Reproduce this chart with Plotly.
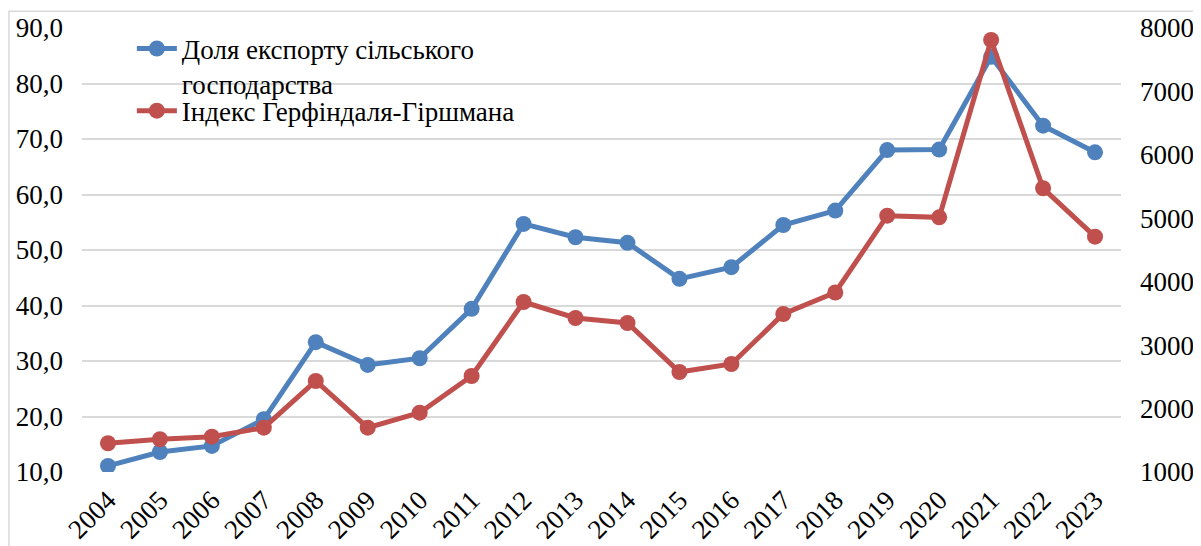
import plotly.graph_objects as go

years = [str(y) for y in range(2004, 2024)]
export_share = [11.1, 13.6, 14.7, 19.5, 33.4, 29.3, 30.5, 39.4, 54.7, 52.3,
                51.3, 44.8, 46.9, 54.5, 57.1, 68.0, 68.1, 84.8, 72.4, 67.6]
hhi_index = [1453, 1516, 1557, 1699, 2435, 1699, 1935, 2514, 3680, 3428,
             3349, 2577, 2703, 3491, 3830, 5041, 5015, 7811, 5473, 4710]

name_export = "Доля експорту сільського<br>господарства"
name_hhi = "Індекс Герфіндаля-Гіршмана"

BLUE = "#4F81BD"
RED = "#C0504D"
FONT = "Liberation Serif"
FS = 27

fig = go.Figure()
fig.add_trace(go.Scatter(
    x=years, y=export_share, name=name_export, mode="lines+markers",
    line=dict(color=BLUE, width=5), marker=dict(color=BLUE, size=16),
    yaxis="y", legend="legend"))
fig.add_trace(go.Scatter(
    x=years, y=hhi_index, name=name_hhi, mode="lines+markers",
    line=dict(color=RED, width=5), marker=dict(color=RED, size=16),
    yaxis="y2", legend="legend2"))

legend_common = dict(xanchor="left", yanchor="top", bgcolor="rgba(0,0,0,0)",
                     font=dict(family=FONT, size=FS), valign="top",
                     itemwidth=40)

fig.update_layout(
    width=1193, height=538,
    margin=dict(l=74, r=80, t=20, b=74),
    paper_bgcolor="white", plot_bgcolor="white",
    separators=", ",
    font=dict(family=FONT, size=FS, color="black"),
    showlegend=True,
    legend=dict(x=0.048, y=1.008, **legend_common),
    legend2=dict(x=0.048, y=0.868, **legend_common),
    xaxis=dict(type="category", range=[-0.5, 19.5], tickangle=-45,
               showgrid=False, showline=False, zeroline=False, ticks="",
               automargin=False, ticklabelstandoff=6,
               tickfont=dict(family=FONT, size=FS)),
    yaxis=dict(range=[10, 90], dtick=10, tick0=10, tickformat=".1f",
               showgrid=True, gridcolor="#d9d9d9", gridwidth=2,
               zeroline=False, showline=False, ticks="", automargin=False,
               ticklabelstandoff=18,
               tickfont=dict(family=FONT, size=FS)),
    yaxis2=dict(range=[1000, 8000], dtick=1000, tick0=1000, tickformat="d",
                overlaying="y", side="right", showgrid=False,
                zeroline=False, showline=False, ticks="", automargin=False,
                ticklabelstandoff=18,
                tickfont=dict(family=FONT, size=FS)),
    shapes=[dict(type="rect", xref="paper", yref="paper",
                 x0=-0.0703, x1=1.2, y0=-0.5, y1=1.038,
                 line=dict(color="#d9d9d9", width=1.5), layer="below")],
)

fig.write_html("out.html")
